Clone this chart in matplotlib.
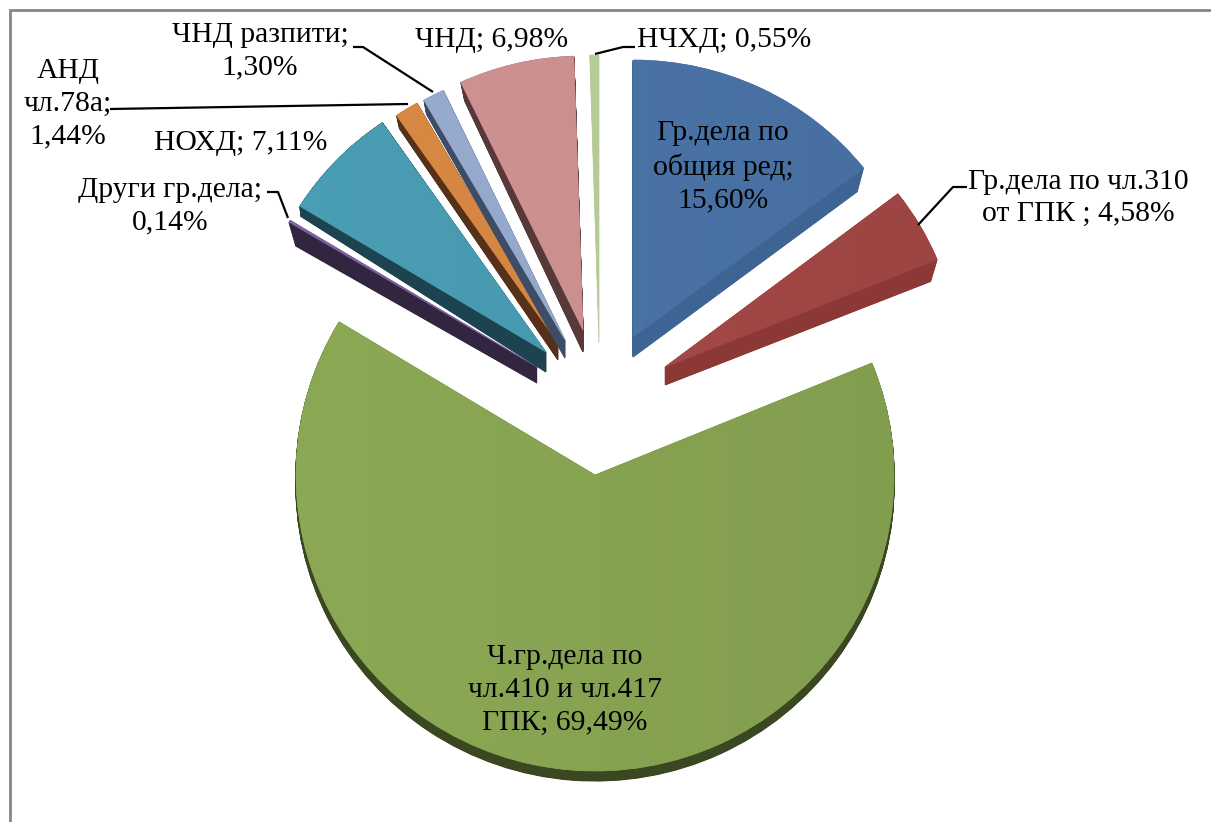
import matplotlib
matplotlib.use('Agg')
import matplotlib.pyplot as plt
import matplotlib.colors as mcolors
import numpy as np
from matplotlib.patches import Wedge
from matplotlib.transforms import Affine2D

plt.rcParams['font.family'] = ['Liberation Serif', 'DejaVu Serif']

# values as printed on the chart (they add up to more than 100, pie normalises)
categories = ['Гр.дела по общия ред', 'Гр.дела по чл.310 от ГПК', 'Ч.гр.дела по чл.410 и чл.417 ГПК',
              'Други гр.дела', 'НОХД', 'АНД чл.78а', 'ЧНД разпити', 'ЧНД', 'НЧХД']
values = [15.60, 4.58, 69.49, 0.14, 7.11, 1.44, 1.30, 6.98, 0.55]

top_colors = ['#4a73a6', '#a34846', '#87a452', '#7b5f9e', '#489ab0', '#d48642', '#95a9cc', '#cc9090', '#b6cc96']
side_colors = ['#3e6494', '#8b3836', '#3a4720', '#322540', '#1c434f', '#57301a', '#3e4c66', '#57393a', '#8fa374']

# where each exploded slice has its tip in pixels, its radii (the 3d view squashes them) and side depth
apex_x = [633, 665, 595, 537, 546, 558, 565, 583, 599]
apex_y = [337, 367, 475, 367, 352, 343, 340, 330, 343]
radius_x = [291, 294, 299, 290, 289, 285, 285, 286, 288]
radius_y = [277, 284, 296, 280, 278, 276, 276, 274, 288]
depth = [20, 18, 10, 16, 20, 17, 18, 22, 0]
# radii of the bottom face, perspective makes the side thicker or thinner along the slice
base_rx = [283, 287, 299, 282, 288, 280, 280, 277, 288]
base_ry = [271, 274, 296, 265, 297, 281, 281, 278, 288]

draw_order = [2, 3, 4, 5, 6, 7, 8, 0, 1]

labels = ['Гр.дела по\nобщия ред;\n15,60%', 'Гр.дела по чл.310\nот ГПК ; 4,58%', 'Ч.гр.дела по\nчл.410 и чл.417\nГПК; 69,49%',
          'Други гр.дела;\n0,14%', 'НОХД; 7,11%', 'АНД\nчл.78а;\n1,44%', 'ЧНД разпити;\n1,30%', 'ЧНД; 6,98%', 'НЧХД; 0,55%']
label_x = [723, 1078, 565, 170, 241, 68, 260, 492, 724]
label_y = [167, 198, 690, 206, 143, 104, 51, 40, 40]

leaders = [
    ([353, 363, 433], [47, 47, 92]),
    ([110, 408], [109, 104]),
    ([267, 278, 288], [192, 192, 218]),
    ([595, 623, 635], [54, 47, 47]),
    ([918, 953, 967], [225, 187, 187]),
]

fig = plt.figure(figsize=(12.11, 8.22), dpi=100)
ax = fig.add_axes([0, 0, 1, 1])

# let pie work out the angles, then move every slice by hand
wedges, _ = ax.pie(values, startangle=-90, colors=top_colors)
angles = [(w.theta1, w.theta2) for w in wedges]
for w in wedges:
    w.remove()

ax.set_xlim(0, 1211)
ax.set_ylim(822, 0)
ax.axis('off')


def slice_patch(i, frac, **kw):
    # frac 0 is the top face, 1 the bottom face
    rx = radius_x[i] + (base_rx[i] - radius_x[i]) * frac
    ry = radius_y[i] + (base_ry[i] - radius_y[i]) * frac
    tr = Affine2D().scale(rx, ry).translate(apex_x[i], apex_y[i] + depth[i] * frac) + ax.transData
    return Wedge((0, 0), 1, angles[i][0], angles[i][1], transform=tr, **kw)


z = 2
for i in draw_order:
    if depth[i] > 0:
        for frac in np.linspace(1, 0, depth[i] * 2, endpoint=False):
            ax.add_patch(slice_patch(i, frac, fc=side_colors[i], ec=side_colors[i], lw=0.8, zorder=z))
    top = slice_patch(i, 0, fc=top_colors[i], ec=top_colors[i], lw=0.5, zorder=z + 1)
    ax.add_patch(top)
    # slight left to right shading on the top face
    rgb = np.array(mcolors.to_rgb(top_colors[i]))
    shade = np.outer(np.linspace(1.03, 0.96, 64), rgb).clip(0, 1)[np.newaxis, :, :]
    im = ax.imshow(shade, extent=(apex_x[i] - radius_x[i], apex_x[i] + radius_x[i], apex_y[i] + radius_y[i], apex_y[i] - radius_y[i]),
                   zorder=z + 1.5, aspect='auto')
    im.set_clip_path(top)
    z += 2

ax.set_xlim(0, 1211)
ax.set_ylim(822, 0)

for xs, ys in leaders:
    ax.plot(xs, ys, color='black', lw=1.6, zorder=50, solid_capstyle='butt')

for text, x, y in zip(labels, label_x, label_y):
    ax.text(x, y, text, ha='center', va='center', fontsize=21.3, color='black', linespacing=1.33, zorder=60)

# chart frame, cut off by the screenshot at the bottom
ax.plot([9.5, 9.5, 1211], [822, 10.3, 10.3], color='#868686', lw=2.0, zorder=70, solid_joinstyle='miter')

fig.savefig('out.png', dpi=100, facecolor='white')
